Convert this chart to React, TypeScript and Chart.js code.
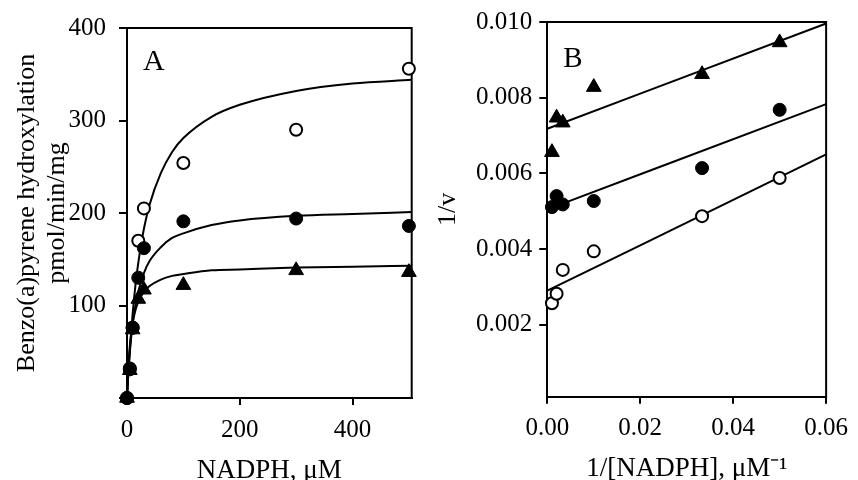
import React, { useEffect, useRef } from 'react';
import { Chart, registerables } from 'chart.js';

Chart.register(...registerables);

// ---------- Panel A data (NADPH, µM vs. rate) ----------
const concA = [0, 5, 10, 20, 30, 100, 300, 500];
const openA = [0, 32, 76, 170, 205, 254, 290, 356];
const filledA = [0, 31, 76, 130, 162, 191, 194, 186];
const triA = [0, 30, 74, 107, 117, 122, 138, 136];

// fitted curves
const curveX = [0, 2, 5, 10, 15, 20, 30, 40, 60, 80, 100, 150, 200, 300, 400, 505];
const openCurve = [0, 23, 52, 91, 122, 146, 183, 209, 243, 266, 281, 304, 317, 332, 340, 344];
const filledCurve = [0, 23, 49, 80, 100, 115, 135, 148, 163, 173, 178, 187, 192, 197, 199, 201];
const triCurve = [0, 29, 56, 81, 95, 104, 115, 121, 128, 132, 134, 138, 139, 141, 142, 143];

const xTicksA = [0, 200, 400];
const yTicksA = [0, 100, 200, 300, 400];

// ---------- Panel B data (Lineweaver-Burk) ----------
const invConc = [0.001, 0.002, 0.00333, 0.01, 0.0333, 0.05];
const triB = [0.00656, 0.00747, 0.00734, 0.00828, 0.00862, 0.00946];
const filledB = [0.00511, 0.0054, 0.00518, 0.00527, 0.00614, 0.00768];
const openB = [0.00257, 0.00282, 0.00345, 0.00394, 0.00487, 0.00588];

const lineX = [0, 0.06];
const triLine = [0.00718, 0.00996];
const filledLine = [0.00505, 0.00783];
const openLine = [0.0029, 0.0065];

const xTicksB = [0, 0.02, 0.04, 0.06];
const yTicksB = [0.002, 0.004, 0.006, 0.008, 0.01];

const FONT = "'Liberation Serif', 'Times New Roman', serif";

const pts = (xs: number[], ys: number[]) => xs.map((x, i) => ({ x, y: ys[i] }));

const framePlugin = (letter: string, dx: number, dy: number, size: number) => ({
  id: 'frame' + letter,
  beforeDatasetsDraw(chart: any) {
    const { ctx, chartArea: a } = chart;
    ctx.save();
    ctx.strokeStyle = '#000';
    ctx.lineWidth = 2;
    ctx.beginPath();
    ctx.moveTo(a.left - 1, a.top);
    ctx.lineTo(a.right, a.top);
    ctx.lineTo(a.right, a.bottom + 1);
    ctx.stroke();
    ctx.fillStyle = '#000';
    ctx.font = `${size}px ${FONT}`;
    ctx.textBaseline = 'alphabetic';
    ctx.textAlign = 'left';
    ctx.fillText(letter, a.left + dx, a.top + dy);
    ctx.restore();
  },
});

const lineDs = (data: any, order: number) => ({
  data,
  showLine: true,
  borderColor: '#000',
  borderWidth: 2,
  pointRadius: 0,
  fill: false,
  cubicInterpolationMode: 'monotone' as const,
  order,
  clip: false as any,
});

const openDs = (data: any) => ({
  data,
  showLine: false,
  pointStyle: 'circle',
  pointRadius: 6,
  pointBackgroundColor: '#fff',
  pointBorderColor: '#000',
  pointBorderWidth: 2,
  order: 3,
  clip: false as any,
});
const filledDs = (data: any) => ({
  data,
  showLine: false,
  pointStyle: 'circle',
  pointRadius: 6.5,
  pointBackgroundColor: '#000',
  pointBorderColor: '#000',
  pointBorderWidth: 1,
  order: 1,
  clip: false as any,
});
const triDs = (data: any) => ({
  data,
  showLine: false,
  pointStyle: 'triangle',
  pointRadius: 8.5,
  pointBackgroundColor: '#000',
  pointBorderColor: '#000',
  pointBorderWidth: 1,
  order: 2,
  clip: false as any,
});

const axisCommon = (tickLen: number) => ({
  type: 'linear' as const,
  grid: { drawOnChartArea: false, drawTicks: true, tickLength: tickLen, color: '#000', lineWidth: 2 },
  border: { color: '#000', width: 2 },
});

function makeA(canvas: HTMLCanvasElement) {
  return new Chart(canvas, {
    type: 'scatter',
    data: {
      datasets: [
        lineDs(pts(curveX, openCurve), 5),
        lineDs(pts(curveX, filledCurve), 5),
        lineDs(pts(curveX, triCurve), 5),
        openDs(pts(concA, openA)),
        filledDs(pts(concA, filledA)),
        triDs(pts(concA, triA)),
      ] as any,
    },
    options: {
      responsive: false,
      animation: false,
      devicePixelRatio: 1,
      layout: { padding: { left: 0, top: 23, right: 18.3, bottom: 0 } },
      plugins: { legend: { display: false }, tooltip: { enabled: false } },
      scales: {
        x: {
          ...axisCommon(7),
          min: 0,
          max: 505,
          afterBuildTicks: (s: any) => { s.ticks = xTicksA.map((v) => ({ value: v })); },
          afterFit: (s: any) => { s.height = 82; },
          ticks: { color: '#000', font: { family: FONT, size: 25 }, padding: 10, maxRotation: 0 },
          title: { display: true, text: 'NADPH, μM', color: '#000', font: { family: FONT, size: 27 }, padding: { top: 0, bottom: -7 } },
        },
        y: {
          ...axisCommon(8),
          min: 0,
          max: 400,
          afterBuildTicks: (s: any) => { s.ticks = yTicksA.map((v) => ({ value: v })); },
          afterFit: (s: any) => { s.width = 127; },
          ticks: { color: '#000', font: { family: FONT, size: 25 }, padding: 13, callback: (v: any) => (v === 0 ? '' : String(v)) },
          title: {
            display: true,
            text: ['Benzo(a)pyrene hydroxylation', 'pmol/min/mg'],
            color: '#000',
            font: { family: FONT, size: 26, lineHeight: 30 / 26 },
            padding: { top: 12, bottom: 0 },
          },
        },
      },
    } as any,
    plugins: [framePlugin('A', 16, 42, 30)],
  });
}

function makeB(canvas: HTMLCanvasElement) {
  return new Chart(canvas, {
    type: 'scatter',
    data: {
      datasets: [
        lineDs(pts(lineX, triLine), 5),
        lineDs(pts(lineX, filledLine), 5),
        lineDs(pts(lineX, openLine), 5),
        openDs(pts(invConc, openB)),
        filledDs(pts(invConc, filledB)),
        triDs(pts(invConc, triB)),
      ] as any,
    },
    options: {
      responsive: false,
      animation: false,
      devicePixelRatio: 1,
      layout: { padding: { left: 0, top: 20, right: 25.3, bottom: 0 } },
      plugins: { legend: { display: false }, tooltip: { enabled: false } },
      scales: {
        x: {
          ...axisCommon(7),
          min: 0,
          max: 0.06,
          afterBuildTicks: (s: any) => { s.ticks = xTicksB.map((v) => ({ value: v })); },
          afterFit: (s: any) => { s.height = 83.3; },
          ticks: { color: '#000', font: { family: FONT, size: 25 }, padding: 10, maxRotation: 0, callback: (v: any) => Number(v).toFixed(2) },
          title: { display: true, text: '1/[NADPH], μM⁻¹', color: '#000', font: { family: FONT, size: 27 }, padding: { top: 0, bottom: -5 } },
        },
        y: {
          ...axisCommon(8),
          min: 0.0001,
          max: 0.01,
          afterBuildTicks: (s: any) => { s.ticks = yTicksB.map((v) => ({ value: v })); },
          afterFit: (s: any) => { s.width = 117.3; },
          ticks: { color: '#000', font: { family: FONT, size: 25 }, padding: 7, callback: (v: any) => Number(v).toFixed(3) },
          title: { display: true, text: '1/v', color: '#000', font: { family: FONT, size: 26 }, padding: { top: 2.4, bottom: 0 } },
        },
      },
    } as any,
    plugins: [framePlugin('B', 16, 45, 29)],
  });
}

export default function App() {
  const refA = useRef<HTMLCanvasElement>(null);
  const refB = useRef<HTMLCanvasElement>(null);
  useEffect(() => {
    const a = makeA(refA.current!);
    const b = makeB(refB.current!);
    return () => { a.destroy(); b.destroy(); };
  }, []);
  return (
    <div style={{ position: 'absolute', left: 0, top: 0, width: 858, height: 480, background: '#fff', overflow: 'hidden' }}>
      <canvas ref={refA} width={430} height={480} style={{ position: 'absolute', left: 0, top: 0, width: 430, height: 480 }} />
      <canvas ref={refB} width={428} height={480} style={{ position: 'absolute', left: 430, top: 0, width: 428, height: 480 }} />
    </div>
  );
}
